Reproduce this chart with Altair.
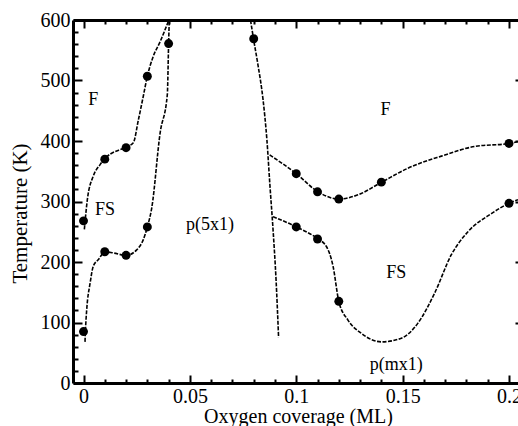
import altair as alt
import pandas as pd

# ---- curves (coverage in ML, temperature in K) ----
ul_x = [0.0004, 0.0018, 0.0046, 0.0078, 0.0101, 0.020, 0.0234, 0.0258, 0.0281, 0.030, 0.0328, 0.036, 0.040]
ul_t = [254, 303, 342, 361, 371, 390, 397, 435, 474, 507, 540, 564, 599]

ll_x = [0.0007, 0.0009, 0.0015, 0.0031, 0.0046, 0.007, 0.0101, 0.014, 0.020, 0.025, 0.0281, 0.030, 0.0321, 0.036, 0.0394, 0.040, 0.0403]
ll_t = [68, 86, 121, 165, 193, 204, 217, 215, 211, 220, 237, 258, 290, 413, 477, 561, 600]

mid_x = [0.0785, 0.0799, 0.0820, 0.0844, 0.0862, 0.0876, 0.0891, 0.0905, 0.0917]
mid_t = [600, 569, 526, 468, 402, 328, 253, 171, 75]

ru_x = [0.0875, 0.1, 0.1102, 0.1201, 0.129, 0.1402, 0.1525, 0.1682, 0.1839, 0.2, 0.2042]
ru_t = [377, 346, 316, 304, 311, 332, 355, 375, 391, 396, 399]

rl_x = [0.0891, 0.1, 0.1102, 0.1141, 0.1173, 0.12, 0.1243, 0.1306, 0.14, 0.1494, 0.1572, 0.1651, 0.1729, 0.1807, 0.1917, 0.2, 0.2042]
rl_t = [275, 258, 238, 226, 193, 135, 104, 82, 68, 74, 99, 149, 212, 250, 280, 297, 303]

# ---- measured points ----
dot_x = [0, 0.01, 0.02, 0.03, 0.04, 0, 0.01, 0.02, 0.03, 0.08, 0.10, 0.11, 0.12, 0.14, 0.20, 0.10, 0.11, 0.12, 0.20]
dot_t = [268, 370, 389, 507, 561, 85, 217, 211, 258, 569, 346, 316, 304, 332, 396, 258, 238, 135, 297]

# ---- phase labels ----
lab_text = ["F", "FS", "p(5x1)", "F", "FS", "p(mx1)"]
lab_x = [0.0046, 0.0101, 0.0595, 0.142, 0.147, 0.147]
lab_t = [468, 286, 261, 452, 182, 30]

# ---- tick positions ----
x_major = [0, 0.05, 0.1, 0.15, 0.2]
x_minor = [0.01, 0.02, 0.03, 0.04, 0.06, 0.07, 0.08, 0.09, 0.11, 0.12, 0.13, 0.14, 0.16, 0.17, 0.18, 0.19]
y_major = [0, 100, 200, 300, 400, 500, 600]
y_minor = [v for v in range(20, 600, 20) if v % 100 != 0]

rows = []
for name, xs, ts in [("ul", ul_x, ul_t), ("ll", ll_x, ll_t), ("mid", mid_x, mid_t),
                     ("ru", ru_x, ru_t), ("rl", rl_x, rl_t)]:
    for i, (a, b) in enumerate(zip(xs, ts)):
        rows.append({"curve": name, "x": a, "t": b, "o": i})
lines_df = pd.DataFrame(rows)
dots_df = pd.DataFrame({"x": dot_x, "t": dot_t})
labs_df = pd.DataFrame({"label": lab_text, "x": lab_x, "t": lab_t})

W, H = 445, 363
FONT = "Liberation Serif"

x_scale = alt.Scale(domain=[-0.00494, 0.20423], nice=False, zero=False)
y_scale = alt.Scale(domain=[0, 600], nice=False)

# main axes: labels, titles, frame lines, major inward ticks (via dashed grid)
x_axis_main = alt.Axis(
    orient="bottom", values=x_major, format="~g",
    title="Oxygen coverage (ML)",
    titleFont=FONT, titleFontSize=20, titleFontWeight="normal", titleColor="black",
    titleX=225, titleY=39, titleAlign="center", titleBaseline="alphabetic",
    labelFont=FONT, labelFontSize=20, labelColor="black", labelPadding=3,
    labelOverlap=False, labelFlush=False, labelBound=False,
    ticks=False, domain=True, domainColor="black", domainWidth=3,
    grid=True, gridColor="black", gridOpacity=1, gridWidth=2, gridDash=[8, H - 16, 8],
)
y_axis_main = alt.Axis(
    orient="left", values=y_major, format="d",
    title="Temperature (K)",
    titleFont=FONT, titleFontSize=21, titleFontWeight="normal", titleColor="black",
    titleX=-47, titleY=193, titleAngle=270, titleAlign="center", titleBaseline="alphabetic",
    labelFont=FONT, labelFontSize=20, labelColor="black", labelPadding=3,
    labelOverlap=False, labelFlush=False, labelBound=False,
    ticks=False, domain=True, domainColor="black", domainWidth=3,
    grid=True, gridColor="black", gridOpacity=1, gridWidth=2, gridDash=[9, W - 12, 3],
)
# minor inward ticks
x_axis_minor = alt.Axis(
    orient="bottom", values=x_minor, labels=False, ticks=False, domain=False, title=None,
    grid=True, gridColor="black", gridOpacity=1, gridWidth=2, gridDash=[4, H - 8, 4],
)
y_axis_minor = alt.Axis(
    orient="left", values=y_minor, labels=False, ticks=False, domain=False, title=None,
    grid=True, gridColor="black", gridOpacity=1, gridWidth=2, gridDash=[5, 2000],
)
# top frame line
x_axis_top = alt.Axis(
    orient="top", values=x_major, labels=False, ticks=False, grid=False, title=None,
    domain=True, domainColor="black", domainWidth=3,
)

lines = alt.Chart(lines_df).mark_line(
    interpolate="monotone", color="black", strokeWidth=1.6, strokeDash=[4, 1.5], clip=True
).encode(
    x=alt.X("x:Q", scale=x_scale, axis=x_axis_main),
    y=alt.Y("t:Q", scale=y_scale, axis=y_axis_main),
    detail="curve:N",
    order="o:Q",
)

dots = alt.Chart(dots_df).mark_point(
    filled=True, color="black", size=80, opacity=1, clip=True
).encode(
    x=alt.X("x:Q", scale=x_scale, axis=x_axis_minor),
    y=alt.Y("t:Q", scale=y_scale, axis=y_axis_minor),
)

labels = alt.Chart(labs_df).mark_text(
    font=FONT, fontSize=18, color="black", align="center", baseline="middle"
).encode(
    x=alt.X("x:Q", scale=x_scale, axis=x_axis_top),
    y=alt.Y("t:Q", scale=y_scale, axis=None),
    text="label:N",
)

chart = alt.layer(lines, dots, labels).resolve_axis(
    x="independent", y="independent"
).properties(
    width=W, height=H,
    autosize=alt.AutoSizeParams(type="none"),
    padding={"left": 73, "top": 20, "right": 0, "bottom": 43},
    background="white",
).configure_view(stroke=None)

chart.save("out.html", embed_options={"renderer": "svg", "actions": False})
